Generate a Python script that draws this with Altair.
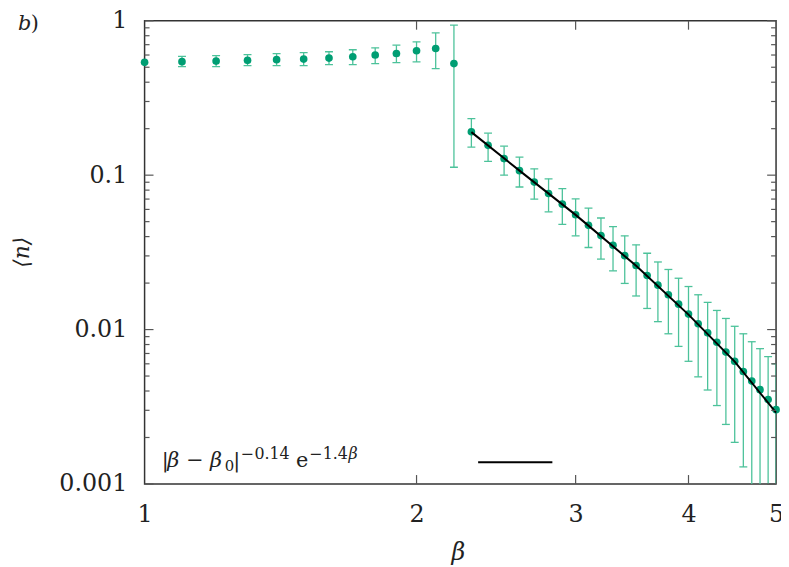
import altair as alt
import pandas as pd

# ---------------- data ----------------
beta = [1.0, 1.1, 1.2, 1.3, 1.4, 1.5, 1.6, 1.7, 1.8, 1.9,
        2.0, 2.1, 2.2, 2.3, 2.4, 2.5, 2.6, 2.7, 2.8, 2.9,
        3.0, 3.1, 3.2, 3.3, 3.4, 3.5, 3.6, 3.7, 3.8, 3.9,
        4.0, 4.1, 4.2, 4.3, 4.4, 4.5, 4.6, 4.7, 4.8, 4.9, 5.0]
n_mean = [0.538, 0.543, 0.548, 0.554, 0.560, 0.565, 0.573, 0.585, 0.600, 0.614,
          0.639, 0.661, 0.528, 0.191, 0.156, 0.128, 0.107, 0.0902, 0.0761, 0.0649,
          0.0554, 0.0473, 0.0406, 0.0351, 0.0301, 0.0260, 0.0224, 0.0194, 0.0168, 0.0146,
          0.0126, 0.0109, 0.00952, 0.00828, 0.00715, 0.00623, 0.00535, 0.00464, 0.00408, 0.00352, 0.00303]
n_lo = [None, 0.505, 0.505, 0.512, 0.512, 0.512, 0.520, 0.520, 0.528, 0.535,
        0.541, 0.490, 0.1125, 0.152, 0.123, 0.100, 0.0838, 0.0699, 0.0579, 0.0480,
        0.0405, 0.0340, 0.0286, 0.0240, 0.0199, 0.0165, 0.0137, 0.01125, 0.00939, 0.00778,
        0.00623, 0.00494, 0.00406, 0.00322, 0.00243, 0.00186, 0.00129, 0.00094, 0.00064, 0.00036, 0.00006]
n_hi = [None, 0.588, 0.594, 0.603, 0.612, 0.621, 0.630, 0.649, 0.668, 0.695,
        0.730, 0.834, 0.938, 0.232, 0.187, 0.154, 0.131, 0.110, 0.0947, 0.0817,
        0.0702, 0.0612, 0.0528, 0.0464, 0.0405, 0.0354, 0.0312, 0.0274, 0.0245, 0.0215,
        0.0190, 0.0168, 0.0150, 0.0133, 0.0118, 0.0105, 0.00939, 0.00834, 0.00752, 0.00668, 0.00600]

fit_beta = [2.3, 2.6, 3.0, 3.5, 4.0, 4.5, 5.0]
fit_n = [0.190, 0.107, 0.0553, 0.0259, 0.0125, 0.0062, 0.00290]

x_tick_values = [1, 2, 3, 4, 5]
x_inner_ticks = [2, 3, 4]
y_tick_values = [0.001, 0.01, 0.1, 1]
y_minor_ticks = [m * d for d in (0.001, 0.01, 0.1) for m in range(2, 10)]

# ---------------- style ----------------
W, H = 638, 468
FONT = "DejaVu Serif"
PT = "#009e73"
ERR = "#4cc29a"
FRAME = "#333333"
TICK = "#555555"

df = pd.DataFrame({"beta": beta, "n": n_mean, "lo": n_lo, "hi": n_hi})
df_err = df.dropna()
df_fit = pd.DataFrame({"beta": fit_beta, "n": fit_n})

xs = alt.Scale(type="log", domain=[1, 5], nice=False)
ys = alt.Scale(type="log", domain=[0.001, 1], nice=False)

x_axis = alt.Axis(values=x_tick_values, format="d", title=None, labelFont=FONT,
                  labelFontSize=24, labelColor="#222", labelPadding=19, labelFlush=False)
y_axis = alt.Axis(values=y_tick_values, format="~g", title=None, labelFont=FONT,
                  labelFontSize=24, labelColor="#222", labelPadding=18)

base = alt.Chart(df)

err_rule = alt.Chart(df_err).mark_rule(color=ERR, strokeWidth=1.3, clip=True).encode(
    x=alt.X("beta:Q", scale=xs, axis=x_axis),
    y=alt.Y("lo:Q", scale=ys, axis=y_axis),
    y2="hi:Q",
)
cap_lo = alt.Chart(df_err).mark_tick(color=ERR, orient="horizontal", size=8, thickness=1.3,
                                     clip=True, opacity=1).encode(
    x=alt.X("beta:Q", scale=xs), y=alt.Y("lo:Q", scale=ys))
cap_hi = alt.Chart(df_err).mark_tick(color=ERR, orient="horizontal", size=8, thickness=1.3,
                                     clip=True, opacity=1).encode(
    x=alt.X("beta:Q", scale=xs), y=alt.Y("hi:Q", scale=ys))

points = base.mark_circle(size=60, color=PT, opacity=1).encode(
    x=alt.X("beta:Q", scale=xs), y=alt.Y("n:Q", scale=ys))

fit = alt.Chart(df_fit).mark_line(color="black", strokeWidth=2).encode(
    x=alt.X("beta:Q", scale=xs), y=alt.Y("n:Q", scale=ys))

# inward ticks drawn as rules
ymaj = pd.DataFrame({"v": y_tick_values})
ymin = pd.DataFrame({"v": y_minor_ticks})
xmaj = pd.DataFrame({"v": x_inner_ticks})

def yticks(data, length):
    left = alt.Chart(data).mark_rule(color=TICK, strokeWidth=1.2).encode(
        y=alt.Y("v:Q", scale=ys), x=alt.value(0), x2=alt.value(length))
    right = alt.Chart(data).mark_rule(color=TICK, strokeWidth=1.2).encode(
        y=alt.Y("v:Q", scale=ys), x=alt.value(W), x2=alt.value(W - length))
    return [left, right]

def xticks(data, length):
    bottom = alt.Chart(data).mark_rule(color=TICK, strokeWidth=1.2).encode(
        x=alt.X("v:Q", scale=xs), y=alt.value(H), y2=alt.value(H - length))
    top = alt.Chart(data).mark_rule(color=TICK, strokeWidth=1.2).encode(
        x=alt.X("v:Q", scale=xs), y=alt.value(0), y2=alt.value(length))
    return [bottom, top]

one = pd.DataFrame({"k": [0]})

def txt(s, x, y, size, style="normal", angle=0, align="left", baseline="alphabetic"):
    kw = dict(text=s, font=FONT, fontSize=size, fontStyle=style, color="#222",
              align=align, baseline=baseline)
    if angle:
        kw["angle"] = angle
    return alt.Chart(one).mark_text(**kw).encode(x=alt.value(x), y=alt.value(y))

MB = 451   # legend main baseline
SB = 443   # superscript baseline
texts = [
    txt("b", -128, 9, 21, style="italic"),
    txt(")", -115, 9, 21),
    txt("β", 317, 538, 24, style="italic", align="center", baseline="middle"),
    txt("⟨n⟩", -124, 234, 22, style="italic", angle=270, align="center", baseline="middle"),
    # legend formula |β − β0|^-0.14 e^-1.4β
    txt("|", 21, MB, 21, align="center"),
    txt("β", 23, MB, 21, style="italic"),
    txt("−", 51, MB, 21, align="center"),
    txt("β", 66, MB, 21, style="italic"),
    txt("0", 81, MB + 4, 15),
    txt("|", 93, MB, 21, align="center"),
    txt("−", 97, SB, 16),
    txt("0.14", 111, SB, 16),
    txt("e", 153, MB, 21),
    txt("−", 166, SB, 16),
    txt("1.4", 180, SB, 16),
    txt("β", 206, SB, 16, style="italic"),
]

legend_line = alt.Chart(one).mark_rule(color="black", strokeWidth=2).encode(
    x=alt.value(337), x2=alt.value(412), y=alt.value(446))

layers = [err_rule, cap_lo, cap_hi, points, fit]
layers += yticks(ymaj, 9) + yticks(ymin, 5) + xticks(xmaj, 9)
layers += texts + [legend_line]

chart = alt.layer(*layers).properties(
    width=W, height=H,
    padding={"left": 138, "top": 10, "right": 5, "bottom": 81},
    autosize=alt.AutoSizeParams(type="none"),
).configure_view(
    stroke=FRAME, strokeWidth=1.5
).configure_axis(
    domain=False, ticks=False, grid=False
)

chart.save("out.html", embed_options={"renderer": "svg", "actions": False})
